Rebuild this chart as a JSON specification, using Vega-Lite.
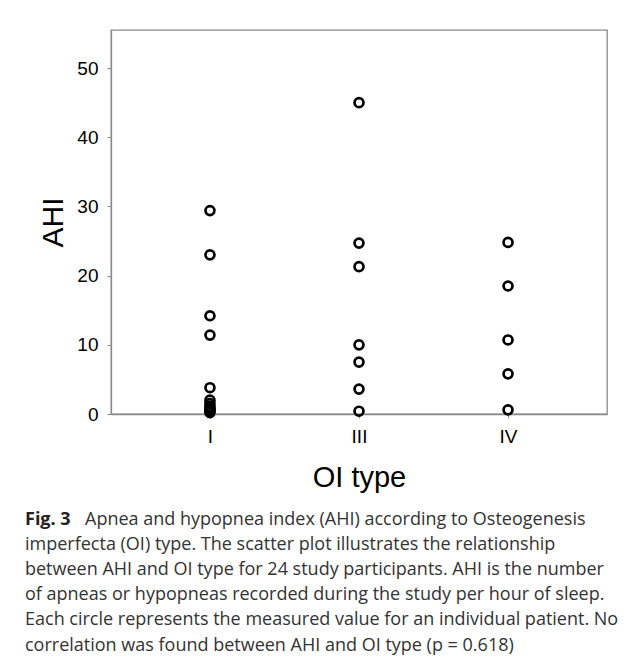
{
  "$schema": "https://vega.github.io/schema/vega-lite/v6.json",
  "padding": {"left": 25, "top": 29, "right": 5, "bottom": 5},
  "background": "white",
  "config": {"view": {"stroke": null}, "font": "Liberation Sans"},
  "spacing": 18,
  "vconcat": [
    {
      "width": 496,
      "height": 384,
      "view": {"stroke": "#8a8a8a", "strokeWidth": 1.3},
      "data": {"values": [
        {"type": "I", "AHI": 29.4}, {"type": "I", "AHI": 23.0}, {"type": "I", "AHI": 14.2}, {"type": "I", "AHI": 11.4},
        {"type": "I", "AHI": 3.8}, {"type": "I", "AHI": 2.0}, {"type": "I", "AHI": 1.5}, {"type": "I", "AHI": 1.1},
        {"type": "I", "AHI": 0.8}, {"type": "I", "AHI": 0.6}, {"type": "I", "AHI": 0.4}, {"type": "I", "AHI": 0.2},
        {"type": "III", "AHI": 45.0}, {"type": "III", "AHI": 24.7}, {"type": "III", "AHI": 21.3}, {"type": "III", "AHI": 10.0},
        {"type": "III", "AHI": 7.5}, {"type": "III", "AHI": 3.6}, {"type": "III", "AHI": 0.4},
        {"type": "IV", "AHI": 24.8}, {"type": "IV", "AHI": 18.5}, {"type": "IV", "AHI": 10.7}, {"type": "IV", "AHI": 5.8},
        {"type": "IV", "AHI": 0.6}
      ]},
      "mark": {"type": "point", "shape": "circle", "filled": false, "color": "black", "strokeWidth": 2.7, "size": 80, "opacity": 1},
      "encoding": {
        "x": {
          "field": "type", "type": "ordinal", "sort": ["I", "III", "IV"],
          "scale": {"type": "point", "padding": 0.664},
          "axis": {
            "title": "OI type", "titleFont": "Liberation Sans", "titleFontSize": 29, "titleFontWeight": "normal", "titleColor": "black", "titlePadding": 17,
            "labelFont": "Liberation Sans", "labelFontSize": 19, "labelColor": "black", "labelAngle": 0, "labelPadding": 9,
            "domainColor": "#8a8a8a", "domainWidth": 1.3, "tickColor": "#8a8a8a", "tickSize": 4, "grid": false
          }
        },
        "y": {
          "field": "AHI", "type": "quantitative",
          "scale": {"domain": [0, 55.5], "nice": false, "zero": true},
          "axis": {
            "title": "AHI", "titleFont": "Liberation Sans", "titleFontSize": 30, "titleFontWeight": "normal", "titleColor": "black", "titlePadding": 8,
            "values": [0, 10, 20, 30, 40, 50],
            "labelFont": "Liberation Sans", "labelFontSize": 19, "labelColor": "black", "labelPadding": 9,
            "domainColor": "#8a8a8a", "domainWidth": 1.3, "tickColor": "#8a8a8a", "tickSize": 4, "grid": false
          }
        }
      }
    },
    {
      "width": 580,
      "height": 125.5,
      "data": {"values": [
        {"line": 1, "part": "label", "text": "Fig. 3"},
        {"line": 1, "part": "body", "text": "Apnea and hypopnea index (AHI) according to Osteogenesis"},
        {"line": 2, "part": "rest", "text": "imperfecta (OI) type. The scatter plot illustrates the relationship"},
        {"line": 3, "part": "rest", "text": "between AHI and OI type for 24 study participants. AHI is the number"},
        {"line": 4, "part": "rest", "text": "of apneas or hypopneas recorded during the study per hour of sleep."},
        {"line": 5, "part": "rest", "text": "Each circle represents the measured value for an individual patient. No"},
        {"line": 6, "part": "rest", "text": "correlation was found between AHI and OI type (p = 0.618)"}
      ]},
      "encoding": {
        "y": {"field": "line", "type": "ordinal", "scale": {"type": "point", "padding": 0}, "axis": null},
        "x": {"value": -86},
        "text": {"field": "text"}
      },
      "layer": [
        {
          "transform": [{"filter": "datum.part == 'label'"}],
          "mark": {"type": "text", "align": "left", "baseline": "alphabetic", "font": "Open Sans", "fontSize": 18, "fontWeight": "bold", "color": "#222"}
        },
        {
          "transform": [{"filter": "datum.part == 'body'"}],
          "mark": {"type": "text", "align": "left", "baseline": "alphabetic", "font": "Open Sans", "fontSize": 18, "color": "#333", "dx": 60}
        },
        {
          "transform": [{"filter": "datum.part == 'rest'"}],
          "mark": {"type": "text", "align": "left", "baseline": "alphabetic", "font": "Open Sans", "fontSize": 18, "color": "#333"}
        }
      ]
    }
  ]
}
